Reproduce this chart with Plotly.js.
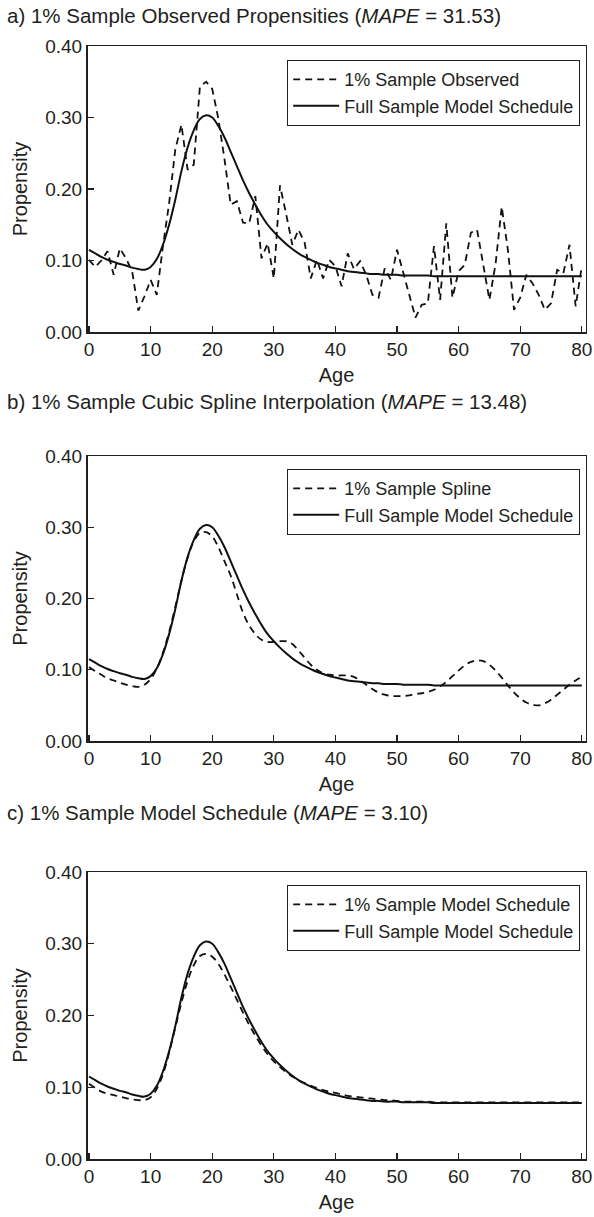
<!DOCTYPE html>
<html>
<head>
<meta charset="utf-8">
<script src="https://cdn.plot.ly/plotly-3.0.1.min.js"></script>
<style>
html,body{margin:0;padding:0;background:#fff;}
#chart{width:594px;height:1217px;}
</style>
</head>
<body>
<div id="chart"></div>
<script>
// ---------- data ----------
const ages = [0,1,2,3,4,5,6,7,8,9,10,11,12,13,14,15,16,17,18,19,20,21,22,23,24,25,26,27,28,29,30,31,32,33,34,35,36,37,38,39,40,41,42,43,44,45,46,47,48,49,50,51,52,53,54,55,56,57,58,59,60,61,62,63,64,65,66,67,68,69,70,71,72,73,74,75,76,77,78,79,80];

const fullModel = [0.115,0.110,0.105,0.101,0.098,0.095,0.093,0.090,0.088,0.087,0.091,0.102,0.122,0.150,0.185,0.225,0.258,0.282,0.298,0.303,0.300,0.288,0.272,0.252,0.232,0.212,0.194,0.178,0.163,0.150,0.140,0.131,0.123,0.116,0.110,0.105,0.101,0.097,0.094,0.091,0.089,0.087,0.085,0.084,0.083,0.082,0.081,0.081,0.080,0.080,0.080,0.079,0.079,0.079,0.079,0.079,0.078,0.078,0.078,0.078,0.078,0.078,0.078,0.078,0.078,0.078,0.078,0.078,0.078,0.078,0.078,0.078,0.078,0.078,0.078,0.078,0.078,0.078,0.078,0.078,0.078];

const observed = [0.101,0.091,0.100,0.113,0.080,0.117,0.103,0.085,0.030,0.050,0.073,0.052,0.120,0.180,0.255,0.290,0.227,0.234,0.343,0.350,0.340,0.298,0.241,0.178,0.183,0.153,0.152,0.190,0.103,0.124,0.075,0.205,0.165,0.122,0.143,0.125,0.075,0.101,0.075,0.101,0.092,0.064,0.110,0.088,0.099,0.080,0.052,0.048,0.089,0.073,0.115,0.083,0.050,0.020,0.038,0.040,0.120,0.045,0.152,0.048,0.085,0.094,0.139,0.143,0.094,0.045,0.095,0.175,0.115,0.031,0.048,0.080,0.068,0.052,0.031,0.040,0.087,0.082,0.122,0.036,0.092];

const spline = [0.104,0.098,0.093,0.088,0.085,0.082,0.079,0.077,0.076,0.079,0.087,0.102,0.124,0.153,0.188,0.225,0.257,0.280,0.292,0.293,0.287,0.272,0.252,0.232,0.206,0.180,0.162,0.150,0.142,0.139,0.139,0.140,0.140,0.136,0.127,0.117,0.107,0.100,0.095,0.093,0.092,0.092,0.092,0.090,0.085,0.079,0.073,0.068,0.065,0.063,0.063,0.063,0.064,0.066,0.067,0.069,0.072,0.077,0.083,0.091,0.099,0.106,0.111,0.113,0.112,0.107,0.099,0.089,0.078,0.068,0.060,0.054,0.051,0.050,0.053,0.058,0.065,0.072,0.079,0.085,0.090];

const sampleModel = [0.105,0.099,0.094,0.091,0.089,0.087,0.085,0.083,0.082,0.082,0.086,0.098,0.118,0.148,0.183,0.218,0.248,0.270,0.283,0.286,0.282,0.272,0.257,0.240,0.222,0.204,0.187,0.172,0.158,0.146,0.136,0.128,0.121,0.115,0.110,0.106,0.102,0.099,0.096,0.094,0.092,0.090,0.088,0.087,0.086,0.085,0.084,0.083,0.082,0.082,0.081,0.080,0.080,0.080,0.080,0.080,0.079,0.079,0.079,0.079,0.079,0.079,0.079,0.079,0.079,0.079,0.079,0.079,0.079,0.079,0.079,0.079,0.079,0.079,0.079,0.079,0.079,0.079,0.079,0.079,0.079];

const panelTitles = [
  'a) 1% Sample Observed Propensities (<i>MAPE</i> = 31.53)',
  'b) 1% Sample Cubic Spline Interpolation (<i>MAPE</i> = 13.48)',
  'c) 1% Sample Model Schedule (<i>MAPE</i> = 3.10)'
];
const dashNames = ['1% Sample Observed','1% Sample Spline','1% Sample Model Schedule'];
const fullName = 'Full Sample Model Schedule';
const yTicks = [0,0.1,0.2,0.3,0.4];
const xTicks = [0,10,20,30,40,50,60,70,80];

// ---------- layout helpers ----------
const W = 594, H = 1217;
const FONT = 'Liberation Sans, Arial, Helvetica, sans-serif';
const INK = '#231f20';
const panels = [
  {top:46,  bottom:332, title:16},
  {top:456, bottom:741, title:401},
  {top:872, bottom:1159, title:812}
];
const dashSeries = [observed, spline, sampleModel];
const dashShape = ['linear','spline','spline'];
const legendTops = [60, 469, 885];

const traces = [];
const layout = {
  width: W, height: H,
  margin:{l:0,r:0,t:0,b:0},
  paper_bgcolor:'#fff', plot_bgcolor:'#fff',
  font:{family:FONT, color:INK, size:18},
  showlegend:true,
  annotations:[]
};

panels.forEach((p,i)=>{
  const n = i===0 ? '' : String(i+1);
  const xa = 'x'+n, ya = 'y'+n;
  const leg = 'legend'+n;
  traces.push({
    x:ages, y:dashSeries[i], xaxis:xa, yaxis:ya, type:'scatter', mode:'lines',
    name:dashNames[i], legend:leg,
    line:{color:'#111', width:1.8, dash:'7px,5px', shape:dashShape[i]}
  });
  traces.push({
    x:ages, y:fullModel, xaxis:xa, yaxis:ya, type:'scatter', mode:'lines',
    name:fullName, legend:leg,
    line:{color:'#111', width:2, shape:'spline'}
  });
  const axCommon = {
    showgrid:false, zeroline:false, showline:true, mirror:true,
    linecolor:INK, linewidth:1.5, ticks:'inside', ticklen:6, tickwidth:1.2, tickcolor:INK,
    tickfont:{size:19, family:FONT, color:INK}, automargin:false, fixedrange:true
  };
  layout['xaxis'+n] = Object.assign({}, axCommon, {
    domain:[87.5/W, 585.5/W], range:[-0.25,80.6], tickvals:xTicks,
    anchor:ya, title:{text:'Age', font:{size:20, family:FONT, color:INK}, standoff:8}
  });
  layout['yaxis'+n] = Object.assign({}, axCommon, {
    domain:[1-p.bottom/H, 1-p.top/H], range:[0,0.4], tickvals:yTicks, tickformat:'.2f',
    anchor:xa, title:{text:'Propensity', font:{size:20, family:FONT, color:INK}, standoff:12}
  });
  layout[leg] = {
    x:580/W, xanchor:'right', y:1-legendTops[i]/H, yanchor:'top',
    bordercolor:INK, borderwidth:1.2, bgcolor:'#fff',
    font:{size:18, family:FONT, color:INK}, itemwidth:46
  };
  layout.annotations.push({
    xref:'paper', yref:'paper', x:5/W, y:1-p.title/H, xanchor:'left', yanchor:'middle',
    text:panelTitles[i], showarrow:false, font:{size:20.5, family:FONT, color:INK}
  });
});

Plotly.newPlot('chart', traces, layout, {displayModeBar:false, staticPlot:true});
</script>
</body>
</html>
